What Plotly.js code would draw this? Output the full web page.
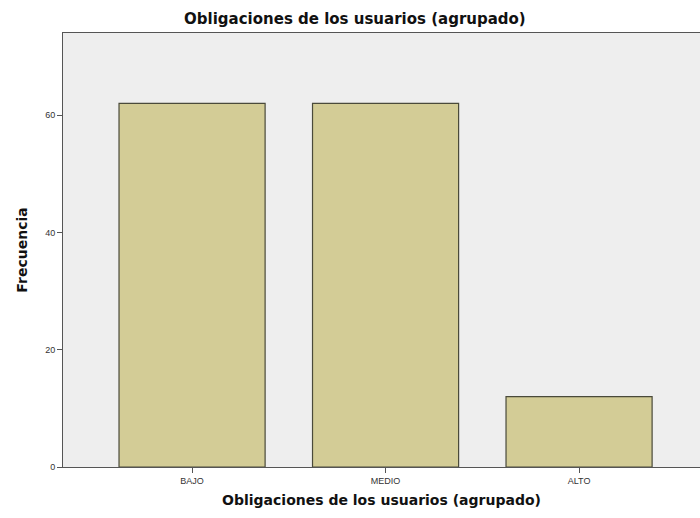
<!DOCTYPE html>
<html>
<head>
<meta charset="utf-8">
<script src="https://cdn.plot.ly/plotly-3.0.1.min.js"></script>
<style>html,body{margin:0;padding:0;background:#fff;}#chart{width:700px;height:518px;}</style>
</head>
<body>
<div id="chart"></div>
<script>
const categories = ["BAJO", "MEDIO", "ALTO"];
const frecuencia = [62, 62, 12];
const yTicks = [0, 20, 40, 60];

const trace = {
  type: "bar",
  x: categories,
  y: frecuencia,
  width: 0.755,
  marker: {color: "#d3cc96", line: {color: "#4a4a3a", width: 1.2}},
  hoverinfo: "x+y"
};

const layout = {
  width: 700, height: 518,
  margin: {l: 63, r: 0, t: 33, b: 51},
  paper_bgcolor: "#ffffff",
  plot_bgcolor: "#eeeeee",
  font: {family: "Liberation Sans, Arial, sans-serif", color: "#333"},
  title: {text: "<b>Obligaciones de los usuarios (agrupado)</b>", xref: "container", x: 0.507, xanchor: "center", y: 0.963, yanchor: "middle", font: {family: "DejaVu Sans, Verdana, sans-serif", size: 15, color: "#111"}},
  bargap: 0,
  xaxis: {
    type: "category",
    range: [-0.667, 2.625],
    showline: true, linecolor: "#555", linewidth: 1, mirror: true,
    ticks: "outside", ticklen: 5, tickcolor: "#555",
    tickfont: {size: 9, color: "#333"},
    showgrid: false, zeroline: false,
    title: {text: "<b>Obligaciones de los usuarios (agrupado)</b>", font: {family: "DejaVu Sans, Verdana, sans-serif", size: 14, color: "#111"}, standoff: 10}
  },
  yaxis: {
    range: [0, 74],
    tickvals: yTicks,
    showline: true, linecolor: "#555", linewidth: 1,
    ticks: "outside", ticklen: 5, tickcolor: "#555",
    tickfont: {size: 9, color: "#333"},
    showgrid: false, zeroline: false,
    title: {text: "<b>Frecuencia</b>", font: {family: "DejaVu Sans, Verdana, sans-serif", size: 14, color: "#111"}, standoff: 14}
  },
  showlegend: false
};

Plotly.newPlot("chart", [trace], layout, {displayModeBar: false, staticPlot: true});
</script>
</body>
</html>
